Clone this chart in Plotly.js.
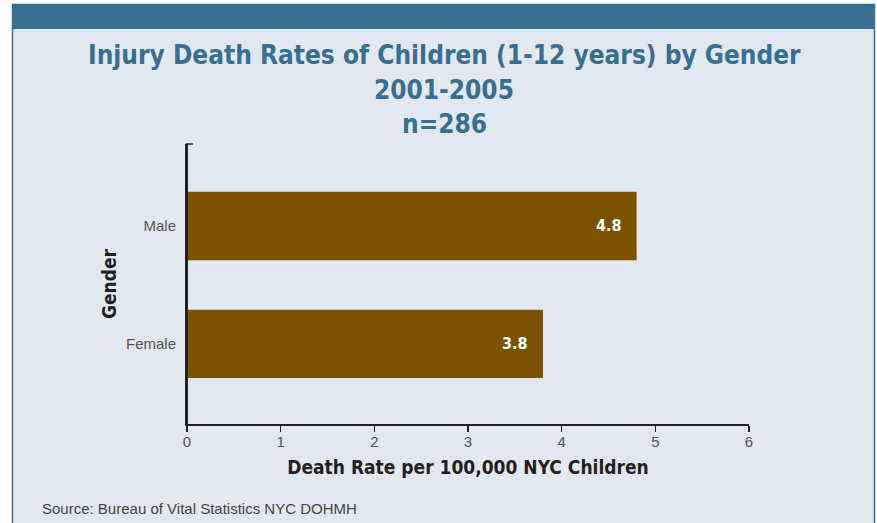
<!DOCTYPE html>
<html>
<head>
<meta charset="utf-8">
<script src="https://cdn.plot.ly/plotly-3.0.1.min.js"></script>
<style>
  html, body { margin: 0; padding: 0; background: #ffffff; }
  #chart { width: 877px; height: 523px; }
</style>
</head>
<body>
<div id="chart"></div>
<script>
// Injury death rates of children aged 1-12, NYC 2001-2005
const genders = ["Female", "Male"];
const deathRates = [3.8, 4.8];
const xTickValues = [0, 1, 2, 3, 4, 5, 6];

const titleLines = [
  "Injury Death Rates of Children (1-12 years) by Gender",
  "2001-2005",
  "n=286"
];
const sourceNote = "Source: Bureau of Vital Statistics NYC DOHMH";

const W = 877, H = 523;
const M = { l: 187, r: 128, t: 144, b: 99 };
const PW = W - M.l - M.r, PH = H - M.t - M.b;
// pixel -> paper helpers for the frame decorations
const px = v => (v - M.l) / PW;
const py = v => (H - M.b - v) / PH;

const BLUE = "#386f90";
const PANEL = "#e1e8f0";
const BAR = "#7b5200";
const CONDENSED = "DejaVu Sans Condensed, sans-serif";

const trace = {
  type: "bar",
  orientation: "h",
  y: genders,
  x: deathRates,
  width: 0.58,
  marker: { color: BAR },
  hoverinfo: "x+y"
};

const valueLabels = genders.map((g, i) => ({
  x: deathRates[i], y: g, xref: "x", yref: "y",
  text: "<b>" + deathRates[i].toFixed(1) + "</b>",
  showarrow: false, xanchor: "right", xshift: -13,
  font: { family: CONDENSED, size: 16, color: "#ffffff" }
}));

// three centred heading lines
const titleCentres = [55, 90, 124];
const titleNotes = titleLines.map((s, i) => ({
  text: "<b>" + s + "</b>",
  xref: "paper", yref: "paper",
  x: px(444), y: py(titleCentres[i]),
  xanchor: "center", yanchor: "middle", showarrow: false,
  font: { family: CONDENSED, size: 26, color: BLUE }
}));

const layout = {
  width: W, height: H,
  margin: M,
  paper_bgcolor: "#ffffff",
  plot_bgcolor: PANEL,
  showlegend: false,
  xaxis: {
    range: [0, 6],
    tickvals: xTickValues,
    ticktext: xTickValues.map(String),
    ticks: "outside", ticklen: 6, tickwidth: 1.5, tickcolor: "#222",
    ticklabelstandoff: -3,
    showline: true, linecolor: "#222", linewidth: 2,
    showgrid: false, zeroline: false,
    tickfont: { family: "Liberation Sans, sans-serif", size: 15, color: "#555" },
    title: {
      text: "<b>Death Rate per 100,000 NYC Children</b>",
      font: { family: CONDENSED, size: 19, color: "#231f20" },
      standoff: 12
    },
    fixedrange: true
  },
  yaxis: {
    type: "category",
    categoryorder: "array", categoryarray: genders,
    range: [-0.68, 1.695],
    ticks: "", ticklabelstandoff: 6,
    showline: true, linecolor: "#222", linewidth: 2,
    showgrid: false, zeroline: false,
    tickfont: { family: "Liberation Sans, sans-serif", size: 15, color: "#555" },
    title: {
      text: "<b>Gender</b>",
      font: { family: CONDENSED, size: 19, color: "#231f20" },
      standoff: 4
    },
    fixedrange: true
  },
  shapes: [
    // panel with thin blue border
    { type: "rect", xref: "paper", yref: "paper", layer: "below",
      x0: px(12.5), x1: px(874.5), y0: py(540), y1: py(4.5),
      fillcolor: PANEL, line: { color: BLUE, width: 1.5 } },
    // header band
    { type: "rect", xref: "paper", yref: "paper", layer: "below",
      x0: px(12.5), x1: px(874.5), y0: py(29), y1: py(4.5),
      fillcolor: BLUE, line: { width: 0 } },
    // small cap tick at the top of the y axis
    { type: "line", xref: "paper", yref: "paper",
      x0: px(186), x1: px(193), y0: 1, y1: 1,
      line: { color: "#222", width: 1.5 } },
    // y axis runs slightly below the x axis
    { type: "line", xref: "paper", yref: "paper",
      x0: 0, x1: 0, y0: 1, y1: py(430),
      line: { color: "#222", width: 2 } }
  ],
  annotations: valueLabels.concat(titleNotes, [
    { text: sourceNote, xref: "paper", yref: "paper",
      x: px(40), y: py(508), xanchor: "left", yanchor: "middle", showarrow: false,
      font: { family: "Liberation Sans, sans-serif", size: 15, color: "#444" } }
  ])
};

Plotly.newPlot("chart", [trace], layout, { displayModeBar: false, staticPlot: true });
</script>
</body>
</html>
